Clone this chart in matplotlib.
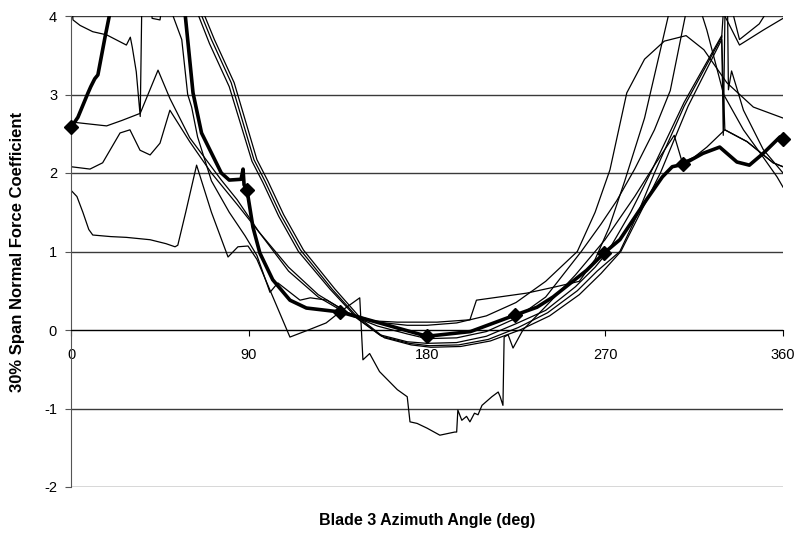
import matplotlib
matplotlib.use("Agg")
import matplotlib.pyplot as plt

plt.rcParams['font.family'] = ['Liberation Sans', 'DejaVu Sans']
plt.rcParams['axes.unicode_minus'] = False

# measured (thick line with diamonds)
meas_x = [0, 3.5, 8.6, 10, 12, 13.6, 17.2, 20, 22, 30, 45, 55, 57.6, 61.7, 66, 76, 80, 86, 87, 87.5, 89,
          92, 95.5, 102, 110.7, 119, 136, 156, 180, 202, 224.5, 235.6, 243.7, 260.7, 269.5, 277.5,
          291, 299, 304, 309.5, 319.5, 328, 336.7, 343, 350, 358.5, 360]
meas_y = [2.58, 2.71, 3.02, 3.1, 3.2, 3.25, 3.73, 4.08, 4.6, 5.5, 6.0, 5.0, 4.05, 3.02, 2.51, 2.0, 1.91, 1.92, 2.05, 1.85, 1.78,
          1.31, 0.98, 0.64, 0.38, 0.28, 0.23, 0.09, -0.08, -0.02, 0.19, 0.29, 0.42, 0.76, 0.98, 1.15,
          1.66, 1.95, 2.08, 2.11, 2.25, 2.33, 2.14, 2.10, 2.25, 2.46, 2.43]
marker_angles = [0, 89, 136, 180, 224.5, 269.5, 309.5, 360]

# model predictions (thin lines)
m1_x = [0, 3, 6, 9, 11, 20, 28, 40, 48, 52.6, 54, 58, 63.5, 71, 79.4, 84.4, 89.5, 94, 110.7, 120, 129, 136, 146,
        147.6, 151, 156, 165, 170, 171.4, 175, 180, 186.5, 194, 195, 195.6, 197.6, 200, 201.7, 204, 205.8,
        207.8, 212.8, 216, 217, 218.4, 219, 221, 223.5, 228.5, 240, 255, 270, 285, 295, 305, 309, 315,
        321.5, 330.6, 341.8, 355, 360]
m1_y = [1.78, 1.7, 1.5, 1.28, 1.21, 1.19, 1.18, 1.15, 1.1, 1.06, 1.08, 1.5, 2.1, 1.5, 0.93, 1.06, 1.07, 0.9, -0.09, 0.0, 0.09, 0.23, 0.41,
        -0.38, -0.3, -0.53, -0.76, -0.85, -1.17, -1.19, -1.25, -1.34, -1.3, -1.3, -1.02, -1.15, -1.1, -1.17, -1.06, -1.08,
        -0.96, -0.85, -0.79, -0.85, -0.96, -0.09, -0.06, -0.23, 0.0, 0.3, 0.7, 1.15, 1.7, 2.1, 2.48, 2.14, 2.2,
        2.33, 2.55, 2.4, 2.13, 2.08]

m2_x = [0, 9.6, 16, 24.8, 29.8, 34.9, 40, 45, 50, 60, 71, 84, 95, 110, 125, 140, 155, 170, 180, 195, 210, 225,
        240, 256, 265, 272.5, 281, 290, 300, 311, 320, 331.6, 345, 360]
m2_y = [2.08, 2.05, 2.13, 2.51, 2.55, 2.29, 2.23, 2.38, 2.8, 2.4, 2.0, 1.6, 1.25, 0.8, 0.45, 0.22, 0.1, 0.06, 0.06, 0.09, 0.18, 0.35,
        0.62, 1.0, 1.5, 2.04, 3.02, 3.45, 3.68, 3.75, 3.57, 3.15, 2.84, 2.7]

m3_x = [0, 18, 25.8, 35, 44, 50, 60, 76, 84, 95, 110, 125, 140, 155, 170, 180, 195, 210, 225, 240, 258, 268,
        276, 285, 295, 303, 311, 318, 325, 329.6, 338, 350, 360]
m3_y = [2.65, 2.6, 2.67, 2.76, 3.31, 2.95, 2.45, 1.91, 1.66, 1.25, 0.75, 0.42, 0.2, 0.05, -0.05, -0.11, -0.1, -0.02, 0.15, 0.42, 1.0, 1.35,
        1.65, 2.05, 2.55, 3.05, 4.05, 4.6, 4.6, 4.05, 3.63, 3.82, 3.97]

m4_x = [0, 1, 4.6, 11, 18, 28, 30, 31, 33, 35, 36, 40, 41, 45, 47, 50, 51.6, 56, 59, 61, 64, 71, 80, 88, 94,
        100.6, 104.6, 115.8, 121, 129.4, 140, 150, 165, 185, 201.7, 205, 230.5, 245, 257, 265, 272, 280,
        290, 302, 310, 318, 321.5, 330, 340, 350, 357, 360]
m4_y = [4.3, 3.95, 3.88, 3.8, 3.76, 3.63, 3.73, 3.6, 3.29, 2.72, 4.5, 4.5, 3.97, 3.95, 4.3, 4.3, 4.0, 3.7, 3.0, 2.84, 2.46, 1.9, 1.5, 1.2, 0.95,
        0.48, 0.6, 0.38, 0.41, 0.38, 0.22, 0.12, 0.1, 0.1, 0.13, 0.38, 0.47, 0.55, 0.62, 0.9, 1.3, 1.9,
        2.7, 4.0, 4.6, 4.1, 3.82, 3.0, 2.55, 2.2, 1.95, 1.82]

b1_x = [63, 70, 80, 91.5, 97, 105, 115, 131, 145, 156, 170, 180, 195, 210, 225, 240, 255, 265, 271.5, 283,
        293, 310, 329, 329.8, 330.8, 333, 338, 348, 353, 358]
b1_y = [4.1, 3.65, 3.1, 2.15, 1.88, 1.45, 1.0, 0.52, 0.14, -0.06, -0.15, -0.17, -0.16, -0.08, 0.08, 0.25, 0.55, 0.8, 1.0, 1.5,
        2.0, 2.9, 3.75, 2.48, 4.3, 4.2, 3.7, 3.9, 4.1, 4.4]

b2_x = [64.5, 71, 81, 92.5, 98, 106, 116, 132, 146, 157, 171, 181, 196, 211, 226, 241, 256, 266, 277.5, 286,
        295, 310, 329, 331, 331.8, 332.4, 334, 340, 350, 360]
b2_y = [4.1, 3.7, 3.15, 2.17, 1.9, 1.47, 1.02, 0.52, 0.13, -0.08, -0.17, -0.2, -0.19, -0.12, 0.03, 0.22, 0.5, 0.75, 1.0, 1.45,
        2.0, 2.85, 3.73, 4.5, 4.5, 3.06, 3.3, 2.8, 2.3, 2.0]

b3_x = [66, 72.5, 82.5, 94, 99.5, 107.5, 117.5, 133.5, 147.5, 158.5, 172, 182, 197, 212, 227, 242, 257, 268,
        278, 288, 298, 312, 329, 330.6, 341.8, 355, 360]
b3_y = [4.1, 3.7, 3.15, 2.17, 1.9, 1.47, 1.02, 0.52, 0.12, -0.1, -0.19, -0.22, -0.21, -0.14, 0.0, 0.18, 0.45, 0.72,
        1.0, 1.5, 2.0, 2.85, 3.7, 2.55, 2.4, 2.13, 2.08]

models = [(m1_x, m1_y), (m2_x, m2_y), (m3_x, m3_y), (m4_x, m4_y),
          (b1_x, b1_y), (b2_x, b2_y), (b3_x, b3_y)]

fig = plt.figure(figsize=(8.01, 5.34), dpi=100)
ax = fig.add_axes([71 / 801, 1 - 487 / 534, 712 / 801, 471 / 534])

for mx, my in models:
    ax.plot(mx, my, color='black', lw=0.9, zorder=2)

# thick measured line (clipped) and its diamonds (not clipped, so the end ones show whole)
marks = [meas_x.index(a) for a in marker_angles]
ax.plot(meas_x, meas_y, color='black', lw=2.6, zorder=3)
ax.plot(meas_x, meas_y, linestyle='none', color='black', marker='D', markersize=7.5,
        markevery=marks, zorder=4, clip_on=False)

ax.set_xlim(0, 360)
ax.set_ylim(-2, 4)
ax.set_xticks([0, 90, 180, 270, 360])
ax.set_yticks([-2, -1, 0, 1, 2, 3, 4])

ax.yaxis.grid(True, color='#3a3a3a', lw=1.0)
ax.set_axisbelow(True)

ax.spines['top'].set_visible(False)
ax.spines['right'].set_visible(False)
ax.spines['left'].set_color('#555555')
ax.spines['bottom'].set_position(('data', 0))
ax.spines['bottom'].set_color('black')

ax.tick_params(axis='x', direction='out', length=4, pad=9, labelsize=10.5, color='black')
ax.tick_params(axis='y', direction='out', length=4, pad=6, labelsize=10.5, color='#555555')

fig.text(18 / 801, 1 - 252 / 534, '30% Span Normal Force Coefficient', rotation=90,
         ha='center', va='center', fontsize=12, fontweight='bold')
fig.text(427 / 801, 1 - 520 / 534, 'Blade 3 Azimuth Angle (deg)',
         ha='center', va='center', fontsize=11.5, fontweight='bold')

fig.savefig('out.png', dpi=100)
